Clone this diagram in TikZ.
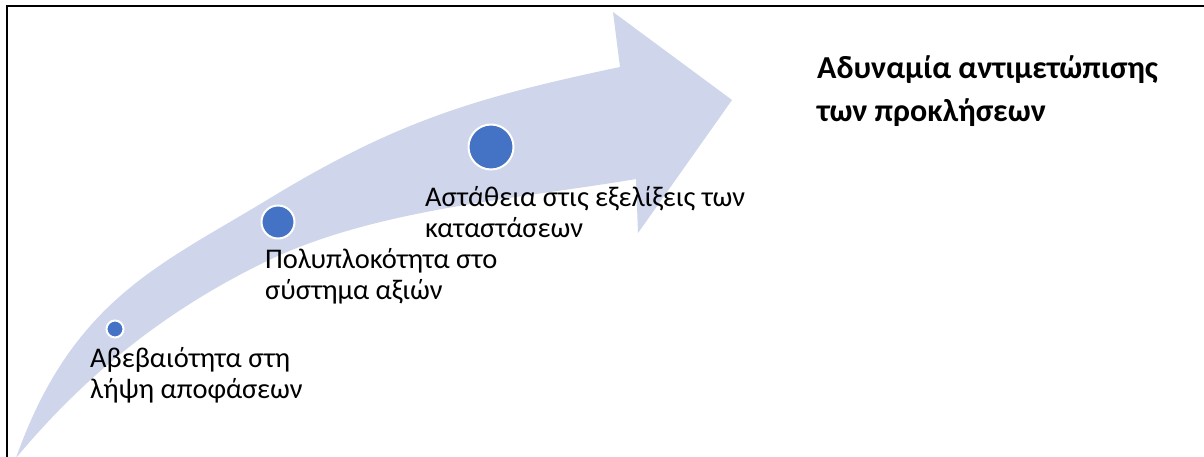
\documentclass[tikz,border=0pt]{standalone}
\usepackage{fontspec}
\setmainfont{Carlito}
\definecolor{band}{HTML}{CFD5EA}
\definecolor{dot}{HTML}{4472C4}
\begin{document}
\begin{tikzpicture}[x=1pt,y=-1pt,
  dotnode/.style={circle,fill=dot,draw=white,line width=2pt,inner sep=0pt},
  label/.style={anchor=base west,align=left,inner sep=0pt,font=\fontsize{28.5}{31}\selectfont},
  boldlabel/.style={anchor=base west,align=left,inner sep=0pt,font=\fontsize{32}{43}\selectfont\bfseries}]
\useasboundingbox (0,0) rectangle (1204,457);
\clip (0,0) rectangle (1204,457);
\fill[white] (0,0) rectangle (1204,457);
\draw[line width=2pt] (7,480) -- (7,6) -- (1230,6);
% curved arrow
\fill[band] (16,458) .. controls (72,300) and (160,265) .. (267,200)
  .. controls (395,122) and (473,98) .. (620,67)
  -- (613,12) -- (732,100) -- (638,233) -- (636,179)
  .. controls (518,199) and (373,209) .. (265,262)
  .. controls (166,310) and (85,375) .. (16,458) -- cycle;
\node[dotnode,minimum size=17pt] (d1) at (115,329) {};
\node[dotnode,minimum size=33pt] (d2) at (278,222) {};
\node[dotnode,minimum size=45pt] (d3) at (491,147) {};
\node[label] (t1) at (90,398) {Αβεβαιότητα στη\\λήψη αποφάσεων};
\node[label] (t2) at (265,299) {Πολυπλοκότητα στο\\σύστημα αξιών};
\node[label] (t3) at (425,237) {Αστάθεια στις εξελίξεις των\\καταστάσεων};
\node[boldlabel] (t4) at (817,122) {Αδυναμία αντιμετώπισης\\των προκλήσεων};
\end{tikzpicture}
\end{document}
